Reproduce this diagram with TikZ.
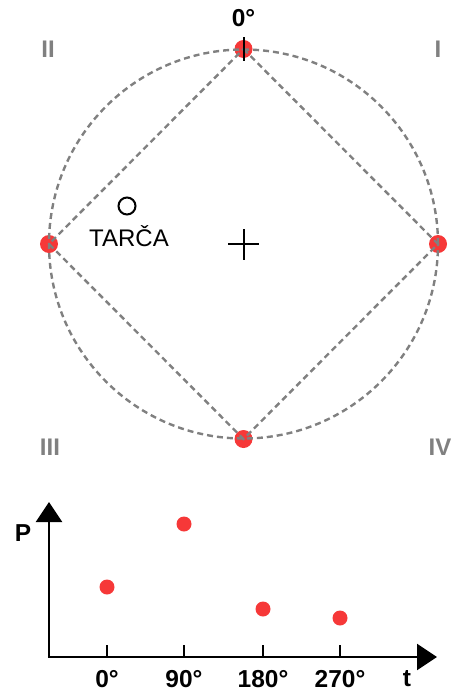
\documentclass[tikz,border=0pt]{standalone}
\usepackage{fontspec}
\setmainfont{Liberation Sans}
\usetikzlibrary{arrows.meta}
\definecolor{dotred}{RGB}{246,56,56}
\definecolor{dashgray}{RGB}{128,128,128}
\begin{document}
\begin{tikzpicture}[x=1pt,y=-1pt,
  reddot/.style={circle,fill=dotred,inner sep=0pt,minimum size=18pt},
  smalldot/.style={circle,fill=dotred,inner sep=0pt,minimum size=15pt},
  dline/.style={draw=dashgray,line width=2.4pt,dash pattern=on 6pt off 4pt},
  quad/.style={font=\fontsize{24}{24}\selectfont\bfseries,text=dashgray},
  lbl/.style={font=\fontsize{24.5}{24.5}\selectfont\bfseries,inner sep=1pt},
  axisline/.style={line width=2.5pt,-{Triangle[length=20pt,width=26pt]}},
  tickline/.style={line width=2.2pt},
]
\useasboundingbox (0,0) rectangle (451,691);
% circle
\coordinate (c) at (243.5,244);
\node[reddot] (top) at (243.5,49) {};
\node[reddot] (right) at (438,244) {};
\node[reddot] (bottom) at (243.5,439) {};
\node[reddot] (left) at (49,244) {};
\draw[dline] (c) circle (194.5pt);
\draw[dline] (top.center) -- (right.center) -- (bottom.center) -- (left.center) -- cycle;
% tick at top
\coordinate (tk1) at (243.5,37);
\coordinate (tk2) at (243.5,61);
\draw[line width=2pt] (tk1) -- (tk2);
\node[lbl] (zero) at (243.5,18) {0°};
% cross
\coordinate (cx1) at (228,244);
\coordinate (cx2) at (259,244);
\coordinate (cy1) at (243.5,229);
\coordinate (cy2) at (243.5,260);
\draw[line width=2pt] (cx1) -- (cx2) (cy1) -- (cy2);
% target
\node[circle,draw,line width=2pt,inner sep=0pt,minimum size=17pt] (target) at (127,206) {};
\node[font=\fontsize{24}{24}\selectfont] (tarca) at (129,236) {TARČA};
% quadrant labels
\node[quad] (q2) at (48,49) {II};
\node[quad] (q1) at (438,49) {I};
\node[quad] (q3) at (50,447) {III};
\node[quad] (q4) at (440,447) {IV};
% chart
\coordinate (o) at (49,657);
\coordinate (ytip) at (49,502);
\coordinate (xtip) at (437,657);
\draw[axisline] (o) -- (ytip);
\draw[axisline] ([xshift=-1.25pt]o) -- (xtip);
\node[lbl] (P) at (23,533) {P};
\node[lbl] (t) at (407,679) {t};
\foreach \x/\name/\txt in {107/a/0°,184/b/90°,263/c/180°,340/d/270°}{
  \coordinate (tt\name) at (\x,645);
  \coordinate (tb\name) at (\x,657);
  \draw[tickline] (tt\name) -- (tb\name);
  \node[lbl] (l\name) at (\x,679) {\txt};
}
\node[smalldot] (p0) at (107,587) {};
\node[smalldot] (p90) at (184,524) {};
\node[smalldot] (p180) at (263,609) {};
\node[smalldot] (p270) at (340,618) {};
\end{tikzpicture}
\end{document}
